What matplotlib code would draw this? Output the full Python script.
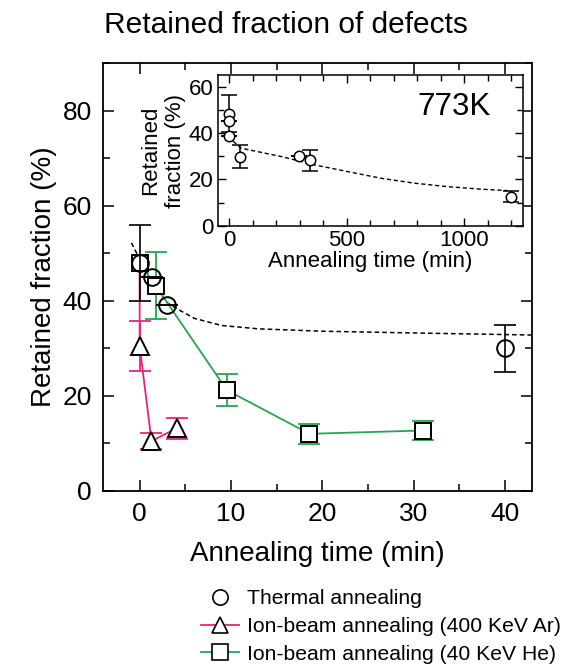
import matplotlib
matplotlib.use("Agg")
import matplotlib.pyplot as plt
from matplotlib.ticker import MultipleLocator
from matplotlib.lines import Line2D

plt.rcParams['font.family'] = ['Liberation Sans', 'DejaVu Sans']

# thermal annealing (main panel)
th_t = [0, 1.4, 3.0, 40]
th_y = [48, 45, 39.2, 30]
th_err = [8, 0, 0, 5]

# ion-beam annealing, 400 KeV Ar
ar_t = [0, 1.3, 4.1]
ar_y = [30.5, 10.5, 13.2]
ar_err = [5.2, 1.6, 2.2]

# ion-beam annealing, 40 KeV He
he_t = [0, 1.75, 9.55, 18.6, 31]
he_y = [48, 43.2, 21.2, 12, 12.7]
he_err = [0, 7, 3.4, 2.1, 2.1]

# dashed fit
fit_t = [-0.9, 0, 1.5, 3, 4.4, 6, 9, 13, 20, 31, 43]
fit_y = [52.2, 48.8, 43.8, 39.6, 38.0, 36.3, 34.8, 34.1, 33.6, 33.2, 32.8]

# inset (773K, long times)
in_t = [0, 0, 0, 43, 298, 344, 1199]
in_y = [48.4, 45.2, 38.8, 29.8, 30.2, 28.2, 12.6]
in_err = [8, 0, 0, 5, 0, 4.6, 2.5]
in_fit_t = [-7, 50, 220, 362, 503, 646, 787, 928, 1071, 1183]
in_fit_y = [38.5, 33.5, 29.9, 26.3, 23.4, 20.5, 18.4, 16.9, 15.8, 15.2]

pink = '#e8237a'
green = '#22a84a'

fig = plt.figure(figsize=(5.76, 6.66), dpi=100)
ax = fig.add_axes([0.179, 0.263, 0.745, 0.642])

ax.plot(fit_t, fit_y, '--', color='black', lw=1.1, dashes=(3, 2), zorder=2)

# pink line starts from the common initial value
ax.plot([0] + ar_t, [48] + ar_y, '-', color=pink, lw=1.3, zorder=2)
ax.errorbar(ar_t, ar_y, yerr=ar_err, fmt='none', ecolor=pink, elinewidth=1.3,
            capsize=8, capthick=1.3, zorder=3)
ax.plot(ar_t, ar_y, '^', ms=13, mfc='white', mec='black', mew=1.4, zorder=4)

ax.plot(he_t, he_y, '-', color=green, lw=1.3, zorder=2)
ax.errorbar(he_t[1:], he_y[1:], yerr=he_err[1:], fmt='none', ecolor=green,
            elinewidth=1.3, capsize=8, capthick=1.3, zorder=3)
ax.plot(he_t, he_y, 's', ms=11, mfc='white', mec='black', mew=1.4, zorder=4)

ax.errorbar(th_t, th_y, yerr=th_err, fmt='none', ecolor='black', elinewidth=1.2,
            capsize=8, capthick=1.2, zorder=5)
ax.plot(th_t, th_y, 'o', ms=12, mfc='none', mec='black', mew=1.4, zorder=6)

ax.set_xlim(-4, 43)
ax.set_ylim(0, 90)
ax.xaxis.set_major_locator(MultipleLocator(10))
ax.xaxis.set_minor_locator(MultipleLocator(5))
ax.yaxis.set_major_locator(MultipleLocator(20))
ax.yaxis.set_minor_locator(MultipleLocator(10))
ax.tick_params(which='both', direction='in', top=True, right=True, width=1.1,
               labelsize=19, pad=8)
ax.tick_params(which='major', length=8)
ax.tick_params(which='minor', length=5)
for s in ax.spines.values():
    s.set_linewidth(1.3)
ax.set_xlabel('Annealing time (min)', fontsize=20, labelpad=11)
ax.set_ylabel('Retained fraction (%)', fontsize=20, labelpad=4)
fig.text(0.497, 0.962, 'Retained fraction of defects', fontsize=21.5,
         ha='center', va='center')

# inset
ins = fig.add_axes([0.378, 0.661, 0.530, 0.226])
ins.plot(in_fit_t, in_fit_y, '--', color='black', lw=1.0, dashes=(3, 2), zorder=2)
ins.errorbar(in_t, in_y, yerr=in_err, fmt='none', ecolor='black', elinewidth=1.1,
             capsize=6, capthick=1.1, zorder=3)
ins.plot(in_t, in_y, 'o', ms=7.5, mfc='white', mec='black', mew=1.1, zorder=4)
ins.set_xlim(-50, 1250)
ins.set_ylim(0, 65)
ins.xaxis.set_major_locator(MultipleLocator(500))
ins.xaxis.set_minor_locator(MultipleLocator(100))
ins.yaxis.set_major_locator(MultipleLocator(20))
ins.yaxis.set_minor_locator(MultipleLocator(10))
ins.tick_params(which='both', direction='in', top=True, right=True, width=1.0,
                labelsize=16, pad=3)
ins.tick_params(which='major', length=6)
ins.tick_params(which='minor', length=4)
for s in ins.spines.values():
    s.set_linewidth(1.1)
ins.set_xlabel('Annealing time (min)', fontsize=16, labelpad=0)
ins.set_ylabel('Retained\nfraction (%)', fontsize=16, labelpad=2, linespacing=1.25)
ins.text(0.895, 0.79, '773K', transform=ins.transAxes, fontsize=22.5,
         ha='right', va='center')

handles = [
    Line2D([], [], ls='none', marker='o', ms=11, mfc='white', mec='black', mew=1.2),
    Line2D([], [], color=pink, lw=1.3, marker='^', ms=12, mfc='white', mec='black', mew=1.2),
    Line2D([], [], color=green, lw=1.3, marker='s', ms=11, mfc='white', mec='black', mew=1.2),
]
labels = ['Thermal annealing', 'Ion-beam annealing (400 KeV Ar)',
          'Ion-beam annealing (40 KeV He)']
fig.legend(handles, labels, loc='lower right', bbox_to_anchor=(1.0, -0.019),
           frameon=False, fontsize=15.2, handlelength=1.8, handletextpad=0.4,
           labelspacing=0.42, borderpad=0.2)

fig.savefig('out.png', dpi=100)
